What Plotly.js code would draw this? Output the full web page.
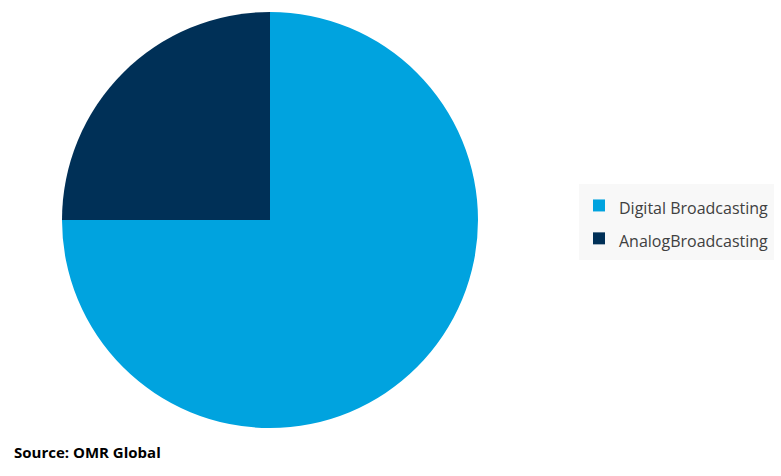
<!DOCTYPE html>
<html>
<head>
<meta charset="utf-8">
<script src="https://cdn.plot.ly/plotly-3.0.1.min.js"></script>
<style>html,body{margin:0;padding:0;background:#fff;}#chart{width:781px;height:476px;}</style>
</head>
<body>
<div id="chart"></div>
<script>
const labels = ["Digital Broadcasting", "AnalogBroadcasting"];
const values = [75, 25];
const colors = ["#00A3DF", "#003057"];

const shownLabels = labels.map(l => '<span style="font-size:16px">' + l + '</span>');

const data = [{
  type: "pie",
  labels: shownLabels,
  values: values,
  sort: false,
  direction: "clockwise",
  rotation: 0,
  textinfo: "none",
  hoverinfo: "label+percent",
  marker: {colors: colors, line: {width: 0}},
  domain: {x: [62/781, 478/781], y: [48/476, 464/476]}
}];

const layout = {
  width: 781, height: 476,
  margin: {l: 0, r: 0, t: 0, b: 0},
  paper_bgcolor: "#ffffff",
  showlegend: true,
  legend: {
    x: 579/781, xanchor: "left",
    y: 1 - 222/476, yanchor: "middle",
    bgcolor: "#f8f8f8",
    font: {family: "Open Sans, sans-serif", size: 23, color: "#404040"},
    tracegroupgap: 0,
    itemclick: false
  },
  annotations: [{
    text: "<b>Source: OMR Global</b>",
    xref: "paper", yref: "paper",
    x: 12/781, y: 1 - 452/476,
    xanchor: "left", yanchor: "middle",
    showarrow: false,
    font: {family: "Open Sans, sans-serif", size: 15, color: "#000000"}
  }]
};

Plotly.newPlot("chart", data, layout, {displayModeBar: false, staticPlot: true});
</script>
</body>
</html>
